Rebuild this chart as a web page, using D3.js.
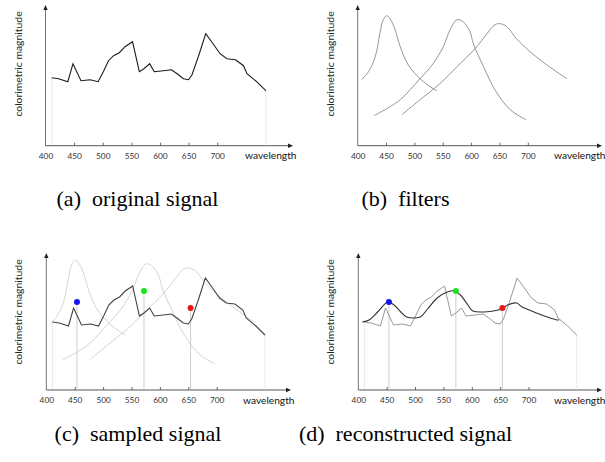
<!DOCTYPE html>
<html><head><meta charset="utf-8">
<script src="https://cdn.jsdelivr.net/npm/d3@7/dist/d3.min.js"></script>
<style>body{margin:0;background:#fff}svg{display:block}
.cap{font-family:"Liberation Serif","Tinos","Times New Roman","DejaVu Serif",serif;}
</style>
</head><body>
<svg id="c" width="605" height="462"></svg>
<script>
// ---- data ----
const tickValues = [400, 450, 500, 550, 600, 650, 700];
const xLabel = "wavelength";
const yLabel = "colorimetric magnitude";
const captions = ["(a)\u2002original signal", "(b)\u2002filters", "(c)\u2002sampled signal", "(d)\u2002reconstructed signal"];

const signalW = [411,423,439,448,462,478,492,501,510,519,529,539,552,564,572,582,590,606,620,630,641,650,656,667,680,694,705,717,732,746,752,769,785];
const signalM = [68,67,64,82,65,66,64,74,85,90,93,99,104,74,77,82,74,75,76,72,67,66,71,89,112,101,92,87,86,80,72,64,55];

const filter1W = [407,419,431,439,445,451,457,466,475,489,510,533,540];
const filter1M = [66,74,89,112,126,130,127,116,99,81,67,57,55];
const filter2W = [429,451,475,510,533,551,563,575,586,598,604,622,642,669,697];
const filter2M = [30,37,46,67,82,99,116,126,124,114,102,79,56,36,26];
const filter3W = [478,510,545,575,607,628,642,651,663,680,704,733,769];
const filter3M = [31,46,62,79,97,112,121,122,119,107,94,81,67];

const sampleW = [454, 572, 654];
const sampleM = [88, 99, 82];
const sampleColors = ["#1414f0", "#19e619", "#e81717"];

const reconW = [407,419,434,452,463,475,485,509,522,539,557,570,580,592,602,653,663,679,689,710,733,751,754];
const reconM = [68,70,78,88,85,78,73,73,81,92,98,99,95,86,79,81,85,87,83,78,73,70,70];

// ---- layout ----
const panels = [
  {x0:45.5, x700:217.2, axisY:145.7, topY:5,   arrowX:293, capX:137.5, capY:205.5},
  {x0:357.7,x700:527.8, axisY:145.7, topY:5,   arrowX:602, capX:405.5, capY:205.5},
  {x0:46.3, x700:216.7, axisY:390,   topY:253, arrowX:291, capX:138,   capY:440.5},
  {x0:358.3,x700:528.5, axisY:390,   topY:253, arrowX:602, capX:405.5, capY:440.5}
];

const svg = d3.select("#c");
const zip = (w, m) => w.map((v, i) => [v, m[i]]);
const signal = zip(signalW, signalM);
const filters = [zip(filter1W, filter1M), zip(filter2W, filter2M), zip(filter3W, filter3M)];
const samples = sampleW.map((w, i) => ({w, m: sampleM[i], c: sampleColors[i]}));
const recon = zip(reconW, reconM);
const sans = "Lato, 'Open Sans', sans-serif";

panels.forEach((p, idx) => {
  const g = svg.append("g");
  const x = d3.scaleLinear().domain([400, 700]).range([p.x0, p.x700]);
  const y = d3.scaleLinear().domain([0, 140]).range([p.axisY, p.axisY - 140]);
  const lineLin = d3.line().x(d => x(d[0])).y(d => y(d[1]));
  const lineSmooth = d3.line().x(d => x(d[0])).y(d => y(d[1])).curve(d3.curveCatmullRom.alpha(0.5));

  // axes lines
  g.append("line").attr("x1", p.x0).attr("x2", p.x0).attr("y1", p.axisY).attr("y2", p.topY + 4)
    .attr("stroke", "#666").attr("stroke-width", 0.9);
  g.append("line").attr("x1", p.x0).attr("x2", p.arrowX - 4).attr("y1", p.axisY).attr("y2", p.axisY)
    .attr("stroke", "#444").attr("stroke-width", 0.9);
  g.append("path").attr("d", `M${p.x0 - 2.2},${p.topY + 5} L${p.x0},${p.topY} L${p.x0 + 2.2},${p.topY + 5} Z`).attr("fill", "#222");
  g.append("path").attr("d", `M${p.arrowX - 5},${p.axisY - 2.2} L${p.arrowX},${p.axisY} L${p.arrowX - 5},${p.axisY + 2.2} Z`).attr("fill", "#222");

  const ax = d3.axisBottom(x).tickValues(tickValues).tickSizeInner(-3).tickSizeOuter(0).tickPadding(7);
  const axg = g.append("g").attr("transform", `translate(0,${p.axisY})`).call(ax);
  axg.select(".domain").remove();
  axg.selectAll(".tick line").attr("stroke", "#444").attr("stroke-width", 0.8)
    .filter(d => d === 400).remove();
  axg.selectAll(".tick text").attr("font-family", sans).attr("font-size", 8.3).attr("fill", "#333");

  g.append("text").attr("x", p.arrowX - 48).attr("y", p.axisY + 13.5)
    .attr("font-family", sans).attr("font-size", 10.2).attr("fill", "#111")
    .text(xLabel);

  g.append("text").attr("transform", `translate(${p.x0 - 28},${p.topY + 59}) rotate(-90)`)
    .attr("text-anchor", "middle").attr("dominant-baseline", "central")
    .attr("font-family", sans).attr("font-size", 10.4).attr("fill", "#222")
    .text(yLabel);

  g.append("text").attr("class", "cap").attr("x", p.capX).attr("y", p.capY).attr("text-anchor", "middle")
    .attr("font-size", 22).attr("fill", "#000")
    .text(captions[idx]);

  const endLines = (col) => {
    [signal[0], signal[signal.length - 1]].forEach(d => {
      g.append("line").attr("x1", x(d[0])).attr("x2", x(d[0])).attr("y1", y(d[1])).attr("y2", p.axisY)
        .attr("stroke", col).attr("stroke-width", 0.8).attr("stroke-dasharray", "1,1");
    });
  };

  if (idx === 0) {
    endLines("#ccc");
    g.append("path").attr("d", lineLin(signal)).attr("fill", "none").attr("stroke", "#1a1a1a").attr("stroke-width", 1.1);
  }
  if (idx === 1) {
    filters.forEach(f => g.append("path").attr("d", lineSmooth(f)).attr("fill", "none").attr("stroke", "#8a8a8a").attr("stroke-width", 0.9));
  }
  if (idx === 2 || idx === 3) {
    endLines("#ccc");
    samples.forEach(s => g.append("line").attr("x1", x(s.w)).attr("x2", x(s.w)).attr("y1", y(s.m)).attr("y2", p.axisY)
      .attr("stroke", "#c8c8c8").attr("stroke-width", 0.9));
  }
  if (idx === 2) {
    filters.forEach(f => g.append("path").attr("d", lineSmooth(f)).attr("fill", "none").attr("stroke", "#cfcfcf").attr("stroke-width", 0.9));
    g.append("path").attr("d", lineLin(signal)).attr("fill", "none").attr("stroke", "#444").attr("stroke-width", 1.1);
  }
  if (idx === 3) {
    g.append("path").attr("d", lineLin(signal)).attr("fill", "none").attr("stroke", "#999").attr("stroke-width", 1);
    g.append("path").attr("d", lineSmooth(recon)).attr("fill", "none").attr("stroke", "#333").attr("stroke-width", 1.1);
  }
  if (idx >= 2) {
    g.selectAll("circle.s").data(samples).join("circle").attr("class", "s")
      .attr("cx", d => x(d.w)).attr("cy", d => y(d.m)).attr("r", 3).attr("fill", d => d.c);
  }
});
</script>
</body></html>
